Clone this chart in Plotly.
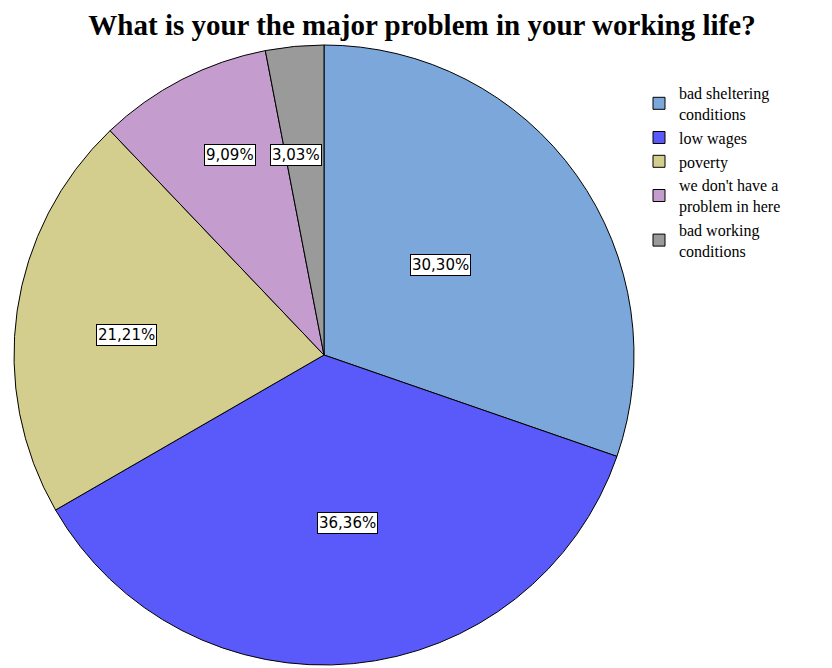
import math
import plotly.graph_objects as go

categories = ["bad sheltering<br>conditions", "low wages", "poverty",
              "we don't have a<br>problem in here", "bad working<br>conditions"]
values = [10, 12, 7, 3, 1]
label_text = ["30,30%", "36,36%", "21,21%", "9,09%", "3,03%"]
colors = ["#7BA7DA", "#5A5AFA", "#D3CD8E", "#C49DCE", "#9A9A9A"]
label_radius = [0.476, 0.547, 0.642, 0.713, 0.652]
label_angle_frac = [0.48, 0.48, 0.47, 0.56, 0.27]

W, H = 832, 668
OFF = 8  # page body margin
cx_px, cy_px, r_px = 324 - OFF, 355 - OFF, 310
dom_x = [(cx_px - r_px) / W, (cx_px + r_px) / W]
dom_y = [(H - (cy_px + r_px)) / H, (H - (cy_px - r_px)) / H]

fig = go.Figure(go.Pie(
    labels=categories, values=values, sort=False, direction="clockwise",
    rotation=0, textinfo="none", hoverinfo="label+percent",
    marker=dict(colors=colors, line=dict(color="#000000", width=1)),
    domain=dict(x=dom_x, y=dom_y),
))

total = sum(values)
cum = 0
annotations = []
for v, t, f, a in zip(values, label_text, label_radius, label_angle_frac):
    ang = (cum + v * a) / total * 2 * math.pi
    cum += v
    ax = (cx_px + f * r_px * math.sin(ang)) / W
    ay = (H - (cy_px - f * r_px * math.cos(ang))) / H
    annotations.append(dict(
        x=ax, y=ay, xref="paper", yref="paper", text=t, showarrow=False,
        font=dict(family="DejaVu Sans", size=15, color="#000000"),
        bgcolor="#FFFFFF", bordercolor="#000000", borderwidth=1, borderpad=1,
        xanchor="center", yanchor="middle"))

fig.update_layout(
    width=W, height=H, margin=dict(l=0, r=0, t=0, b=0),
    paper_bgcolor="#FFFFFF", plot_bgcolor="#FFFFFF",
    title=dict(text="<b>What is your the major problem in your working life?</b>",
               x=(422 - OFF) / W, xanchor="center", y=1 - (25 - OFF) / H, yanchor="middle",
               font=dict(family="Liberation Serif", size=29, color="#000000")),
    legend=dict(x=(639 - OFF) / W, y=1 - (76 - OFF) / H, xanchor="left", yanchor="top",
                font=dict(family="Liberation Serif", size=16, color="#000000"),
                traceorder="normal", tracegroupgap=0, itemwidth=30,
                bgcolor="rgba(0,0,0,0)"),
    annotations=annotations,
)

fig.write_html("out.html")
